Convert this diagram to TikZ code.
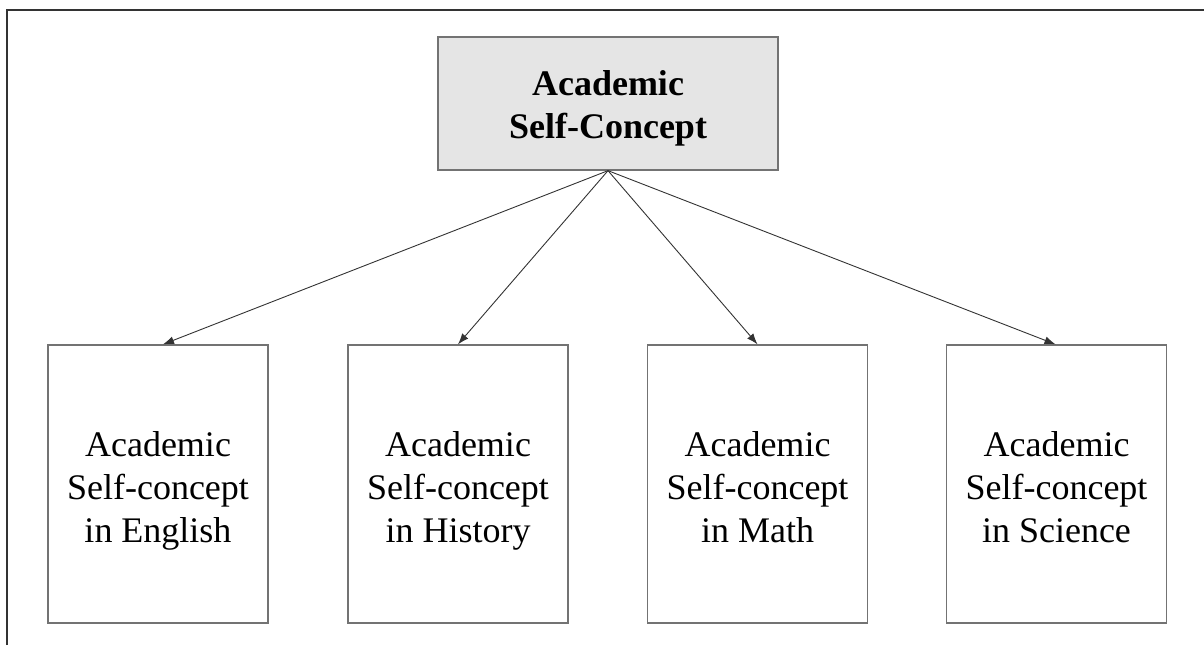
\documentclass[tikz,border=0pt]{standalone}
\usepackage{fontspec}
\setmainfont{Liberation Serif}
\usetikzlibrary{arrows.meta}
\begin{document}
\begin{tikzpicture}[x=1pt,y=-1pt,
  topbox/.style={draw=black!55, line width=1.3pt, fill=black!10,
    minimum width=340pt, minimum height=133pt, inner sep=0pt},
  subbox/.style={draw=black!55, line width=1.3pt, fill=white,
    minimum width=220pt, minimum height=278pt, inner sep=0pt},
  toptext/.style={inner sep=0pt, align=center,
    font=\fontsize{36}{43}\selectfont\bfseries},
  subtext/.style={inner sep=0pt, align=center,
    font=\fontsize{36}{43}\selectfont},
  link/.style={draw=black!80, line width=0.9pt,
    -{Latex[length=11pt,width=8pt]}}]
  \useasboundingbox (0,0) rectangle (1204,645);
  % outer frame
  \draw[black!80, line width=1.8pt] (7,645) -- (7,10) -- (1204,10);
  % general self-concept
  \node[topbox] (asc) at (608,103.5) {};
  \node[toptext] (asct) at ([yshift=-7pt]asc.center) {Academic\\Self-Concept\strut};
  % subject-specific self-concepts
  \node[subbox] (eng) at (158,484) {};
  \node[subbox] (his) at (458,484) {};
  \node[subbox] (mat) at (757.5,484) {};
  \node[subbox] (sci) at (1056.5,484) {};
  \node[subtext] (engt) at ([yshift=-9pt]eng.center) {Academic\\Self-concept\\in English\strut};
  \node[subtext] (hist) at ([yshift=-9pt]his.center) {Academic\\Self-concept\\in History\strut};
  \node[subtext] (matt) at ([yshift=-9pt]mat.center) {Academic\\Self-concept\\in Math\strut};
  \node[subtext] (scit) at ([yshift=-9pt]sci.center) {Academic\\Self-concept\\in Science\strut};
  % hierarchy links
  \draw[link] (asc.south) -- ([xshift=5pt]eng.north);
  \draw[link] (asc.south) -- (his.north);
  \draw[link] (asc.south) -- (mat.north);
  \draw[link] (asc.south) -- ([xshift=-1pt]sci.north);
\end{tikzpicture}
\end{document}
